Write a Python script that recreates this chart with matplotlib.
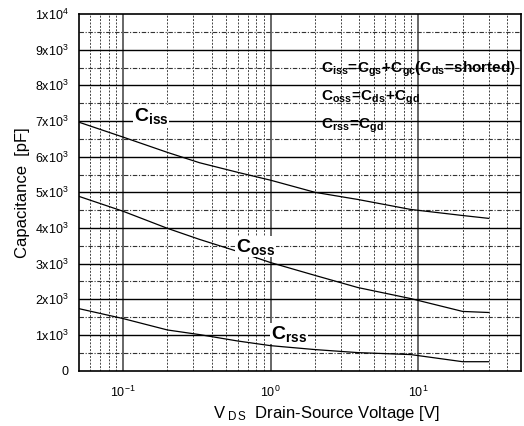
import numpy as np
import matplotlib
matplotlib.use('Agg')
import matplotlib.pyplot as plt
from matplotlib.ticker import FixedLocator, FuncFormatter, NullFormatter

plt.rcParams['font.family'] = ['Liberation Sans', 'DejaVu Sans']
plt.rcParams['mathtext.fontset'] = 'custom'
plt.rcParams['mathtext.rm'] = 'Liberation Sans'
plt.rcParams['mathtext.it'] = 'Liberation Sans'
plt.rcParams['mathtext.bf'] = 'Liberation Sans:bold'

# Drain-source voltage [V]
vds = [0.05, 0.1, 0.2, 0.33, 0.6, 1.0, 2.0, 3.9, 8.9, 20.0, 30.0]
# capacitances [pF]
ciss = [6970, 6550, 6120, 5830, 5560, 5340, 5000, 4800, 4520, 4350, 4270]
coss = [4890, 4470, 3990, 3680, 3340, 3030, 2670, 2330, 2020, 1660, 1630]
crss = [1740, 1460, 1140, 1010, 830, 700, 590, 505, 450, 250, 250]

y_ticks = [0, 1000, 2000, 3000, 4000, 5000, 6000, 7000, 8000, 9000, 10000]
y_labels = ['0'] + [r'%dx10$^{3}$' % i for i in range(1, 10)] + [r'1x10$^{4}$']

fig = plt.figure(figsize=(5.24, 4.26), dpi=100)
ax = fig.add_axes([0.150, 0.130, 0.845, 0.837])

ax.set_xscale('log')
ax.set_xlim(0.05, 50)
ax.set_ylim(0, 10000)

# grid
minor_x = [m * 10.0 ** e for e in (-2, -1, 0, 1) for m in range(2, 10)]
minor_x = [v for v in minor_x if 0.05 < v < 50]
for v in minor_x:
    ax.axvline(v, color='#444444', lw=0.7, ls=(0, (2, 1.5)), zorder=1)
for v in [0.1, 1, 10]:
    ax.axvline(v, color='#666666', lw=1.4, zorder=1)
for v in range(500, 10000, 1000):
    ax.axhline(v, color='#333333', lw=0.8, ls=(0, (4, 1.5, 1, 1.5)), zorder=1)
for v in range(1000, 10000, 1000):
    ax.axhline(v, color='black', lw=1.0, zorder=1)

ax.plot(vds, ciss, color='black', lw=0.9, zorder=3)
ax.plot(vds, coss, color='black', lw=0.9, zorder=3)
ax.plot(vds, crss, color='black', lw=0.9, zorder=3)

lab = dict(fontsize=14, fontweight='bold', zorder=4, ha='left', va='baseline',
           bbox=dict(facecolor='white', edgecolor='none', pad=0.5))
ax.text(0.118, 7000, r'$\mathbf{C_{iss}}$', **lab)
ax.text(0.58, 3340, r'$\mathbf{C_{oss}}$', **lab)
ax.text(1.0, 900, r'$\mathbf{C_{rss}}$', **lab)

eq = dict(fontsize=11, zorder=4, ha='left', va='baseline')
ax.text(0.548, 0.835, r'$\mathbf{C_{iss}\!=\!C_{gs}\!+\!C_{gc}(C_{ds}\!=\!shorted)}$',
        transform=ax.transAxes, **eq)
ax.text(0.548, 0.757, r'$\mathbf{C_{oss}\!=\!C_{ds}\!+\!C_{gd}}$',
        transform=ax.transAxes, **eq)
ax.text(0.548, 0.679, r'$\mathbf{C_{rss}\!=\!C_{gd}}$',
        transform=ax.transAxes, **eq)

ax.yaxis.set_major_locator(FixedLocator(y_ticks))
ax.set_yticklabels(y_labels)
ax.xaxis.set_major_locator(FixedLocator([0.1, 1, 10]))
ax.xaxis.set_major_formatter(FuncFormatter(lambda v, p: r'10$^{%d}$' % round(np.log10(v))))
ax.xaxis.set_minor_formatter(NullFormatter())
ax.tick_params(which='both', length=0, labelsize=9)
ax.tick_params(axis='y', pad=7)
ax.tick_params(axis='x', pad=10)

for s in ax.spines.values():
    s.set_linewidth(1.2)
    s.set_zorder(5)

ax.set_ylabel('Capacitance  [pF]', fontsize=12, labelpad=4)
ax.set_xlabel(r'V$_{\rm\ D\,S}$  Drain-Source Voltage [V]', fontsize=12, labelpad=4)
ax.xaxis.set_label_coords(0.56, -0.095)

fig.savefig('out.png', dpi=100)
